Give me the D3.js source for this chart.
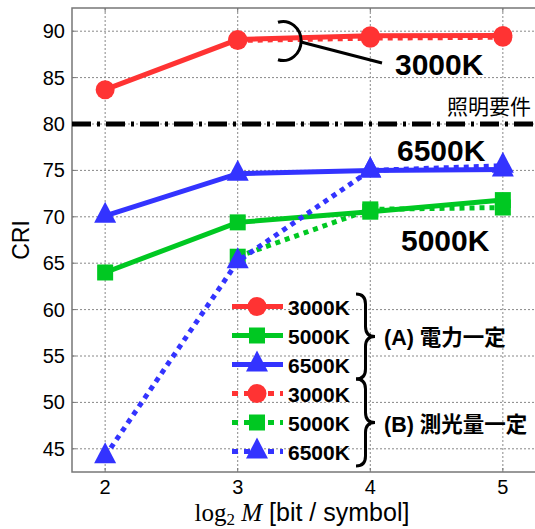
<!DOCTYPE html>
<html>
<head lang="ja">
    <meta charset="UTF-8">
    <title>CRI vs log2 M</title>
    <script src="https://d3js.org/d3.v7.min.js"></script>
    <style>
        body { margin: 0; background: #fff; }
        text { font-family: "Liberation Sans", Arial, sans-serif; }
    </style>
</head>
<body>
<div id="chartContainer"></div>
<script type="text/javascript">

    // data
    var xTicks = [2, 3, 4, 5];
    var yTicks = [45, 50, 55, 60, 65, 70, 75, 80, 85, 90];
    var requirement = 80;

    // (A) constant power
    var a3000 = [[2, 83.7], [3, 89.1], [4, 89.5], [5, 89.55]];
    var a5000 = [[2, 64.0], [3, 69.4], [4, 70.55], [5, 71.8]];
    var a6500 = [[2, 70.1], [3, 74.65], [4, 75.0], [5, 75.1]];
    // (B) constant luminous flux
    var b3000 = [[3, 89.0], [4, 89.25], [5, 89.35]];
    var b5000 = [[3, 65.7], [4, 70.8], [5, 71.0]];
    var b6500 = [[2, 44.2], [3, 65.2], [4, 75.0], [5, 75.5]];

    var legendLabels = ["3000K", "5000K", "6500K", "3000K", "5000K", "6500K"];

    var red = "#ff3333", green = "#00c822", blue = "#3333ff";

    var series = [
        {data: a3000, color: red, shape: "circle", dotted: false},
        {data: a5000, color: green, shape: "square", dotted: false},
        {data: a6500, color: blue, shape: "triangle", dotted: false},
        {data: b3000, color: red, shape: "circle", dotted: true},
        {data: b5000, color: green, shape: "square", dotted: true},
        {data: b6500, color: blue, shape: "triangle", dotted: true}
    ];

    var W = 535, H = 529;
    // plot box (note: "top" is reserved on window, so prefix these)
    var pL = 72, pR = 536, pT = 8, pB = 472;

    var svg = d3.select("#chartContainer").append("svg")
        .attr("width", W).attr("height", H);

    var x = d3.scaleLinear().domain([1.75, 5.25]).range([pL, pR]);
    var y = d3.scaleLinear().domain([42.5, 92.5]).range([pB, pT]);

    // grid
    svg.selectAll(".vgrid").data(xTicks).enter().append("line")
        .attr("x1", d => x(d)).attr("x2", d => x(d))
        .attr("y1", pT).attr("y2", pB)
        .attr("stroke", "#888").attr("stroke-width", 1).attr("stroke-dasharray", "2,2");
    svg.selectAll(".hgrid").data(yTicks).enter().append("line")
        .attr("x1", pL).attr("x2", pR)
        .attr("y1", d => y(d)).attr("y2", d => y(d))
        .attr("stroke", "#888").attr("stroke-width", 1).attr("stroke-dasharray", "2,2");

    // frame + inward ticks
    svg.append("rect").attr("x", pL).attr("y", pT)
        .attr("width", pR - pL).attr("height", pB - pT)
        .attr("fill", "none").attr("stroke", "#777").attr("stroke-width", 1.5);
    xTicks.forEach(function (t) {
        svg.append("line").attr("x1", x(t)).attr("x2", x(t)).attr("y1", pB).attr("y2", pB - 4).attr("stroke", "#777");
        svg.append("line").attr("x1", x(t)).attr("x2", x(t)).attr("y1", pT).attr("y2", pT + 4).attr("stroke", "#777");
    });
    yTicks.forEach(function (t) {
        svg.append("line").attr("x1", pL).attr("x2", pL + 4).attr("y1", y(t)).attr("y2", y(t)).attr("stroke", "#777");
    });

    // tick labels
    svg.selectAll(".xlab").data(xTicks).enter().append("text")
        .attr("x", d => x(d)).attr("y", 494)
        .attr("text-anchor", "middle").style("font-size", "20px")
        .text(d => d);
    svg.selectAll(".ylab").data(yTicks).enter().append("text")
        .attr("x", 65).attr("y", d => y(d) + 7)
        .attr("text-anchor", "end").style("font-size", "20px")
        .text(d => d);

    // axis titles
    svg.append("text")
        .attr("transform", "translate(29," + y(67.5) + ") rotate(-90)")
        .attr("text-anchor", "middle").style("font-size", "23px")
        .text("CRI");
    var xt = svg.append("text").attr("x", 302).attr("y", 521)
        .attr("text-anchor", "middle").style("font-size", "25px");
    xt.append("tspan").style("font-family", "'Liberation Serif', 'DejaVu Serif', serif").text("log");
    xt.append("tspan").style("font-family", "'Liberation Serif', serif").style("font-size", "17px")
        .attr("dy", 4).text("2");
    xt.append("tspan").style("font-family", "'Liberation Serif', serif").style("font-style", "italic")
        .attr("dy", -4).text(" M");
    xt.append("tspan").text("  [bit / symbol]");

    // requirement line
    svg.append("line")
        .attr("x1", pL).attr("x2", pR)
        .attr("y1", y(requirement)).attr("y2", y(requirement))
        .attr("stroke", "#000").attr("stroke-width", 5)
        .attr("stroke-dasharray", "19,6,3,6");

    function markerPath(shape) {
        if (shape === "circle") return d3.symbol().type(d3.symbolCircle).size(Math.PI * 9.5 * 9.5)();
        if (shape === "square") return "M-8,-8H8V8H-8Z";
        return "M0,-14L11,7L-11,7Z";
    }

    var line = d3.line().x(d => x(d[0])).y(d => y(d[1]));

    series.forEach(function (s) {
        svg.append("path").datum(s.data)
            .attr("d", line)
            .attr("fill", "none").attr("stroke", s.color).attr("stroke-width", 5)
            .attr("stroke-dasharray", s.dotted ? "5,5" : null);
        svg.selectAll(null).data(s.data).enter().append("path")
            .attr("d", markerPath(s.shape))
            .attr("transform", d => "translate(" + x(d[0]) + "," + y(d[1]) + ")")
            .attr("fill", s.color);
    });

    // annotations
    var ax = 283, ay = 41;
    svg.append("path")
        .attr("d", "M" + (ax - 5) + "," + (ay - 18.7) + " A18,19.5 0 1 1 " + (ax - 5) + "," + (ay + 18.7))
        .attr("fill", "none").attr("stroke", "#000").attr("stroke-width", 3);
    svg.append("line").attr("x1", ax + 18).attr("y1", ay + 1).attr("x2", 382).attr("y2", 63)
        .attr("stroke", "#000").attr("stroke-width", 3);
    svg.append("text").attr("x", 395).attr("y", 75).style("font-size", "30px").style("font-weight", "bold").text("3000K");
    svg.append("text").attr("x", 397).attr("y", 161).style("font-size", "30px").style("font-weight", "bold").text("6500K");
    svg.append("text").attr("x", 401).attr("y", 251).style("font-size", "30px").style("font-weight", "bold").text("5000K");
    svg.append("text").attr("x", 447).attr("y", 114).style("font-size", "21px")
        .style("font-family", "'Noto Sans CJK JP', sans-serif").text("照明要件");

    // legend
    var ly0 = 306.5, lstep = 29;
    series.forEach(function (s, i) {
        var ly = ly0 + i * lstep;
        svg.append("line").attr("x1", 232).attr("x2", 283).attr("y1", ly).attr("y2", ly)
            .attr("stroke", s.color).attr("stroke-width", 5)
            .attr("stroke-dasharray", s.dotted ? "6,6" : null);
        svg.append("path").attr("d", markerPath(s.shape))
            .attr("transform", "translate(257," + ly + ")").attr("fill", s.color);
        svg.append("text").attr("x", 288).attr("y", ly + 8)
            .style("font-size", "21px").style("font-weight", "bold").text(legendLabels[i]);
    });

    function brace(x0, y0, y1, w) {
        var ym = (y0 + y1) / 2, xm = x0 + w / 2, r = 10;
        return "M" + x0 + "," + y0 + " Q" + xm + "," + y0 + " " + xm + "," + (y0 + r) +
            " L" + xm + "," + (ym - r) + " Q" + xm + "," + ym + " " + (x0 + w) + "," + ym +
            " Q" + xm + "," + ym + " " + xm + "," + (ym + r) +
            " L" + xm + "," + (y1 - r) + " Q" + xm + "," + y1 + " " + x0 + "," + y1;
    }
    svg.append("path").attr("d", brace(356, 294, 379, 19))
        .attr("fill", "none").attr("stroke", "#000").attr("stroke-width", 3);
    svg.append("path").attr("d", brace(356, 379, 466, 19))
        .attr("fill", "none").attr("stroke", "#000").attr("stroke-width", 3);

    var ta = svg.append("text").attr("x", 384).attr("y", 345).style("font-size", "21.5px");
    ta.append("tspan").style("font-weight", "bold").text("(A) ");
    ta.append("tspan").style("font-family", "'Noto Sans CJK JP', sans-serif").style("font-weight", "bold").text("電力一定");
    var tb = svg.append("text").attr("x", 384).attr("y", 432).style("font-size", "21.5px");
    tb.append("tspan").style("font-weight", "bold").text("(B) ");
    tb.append("tspan").style("font-family", "'Noto Sans CJK JP', sans-serif").style("font-weight", "bold").text("測光量一定");

</script>
</body>
</html>
